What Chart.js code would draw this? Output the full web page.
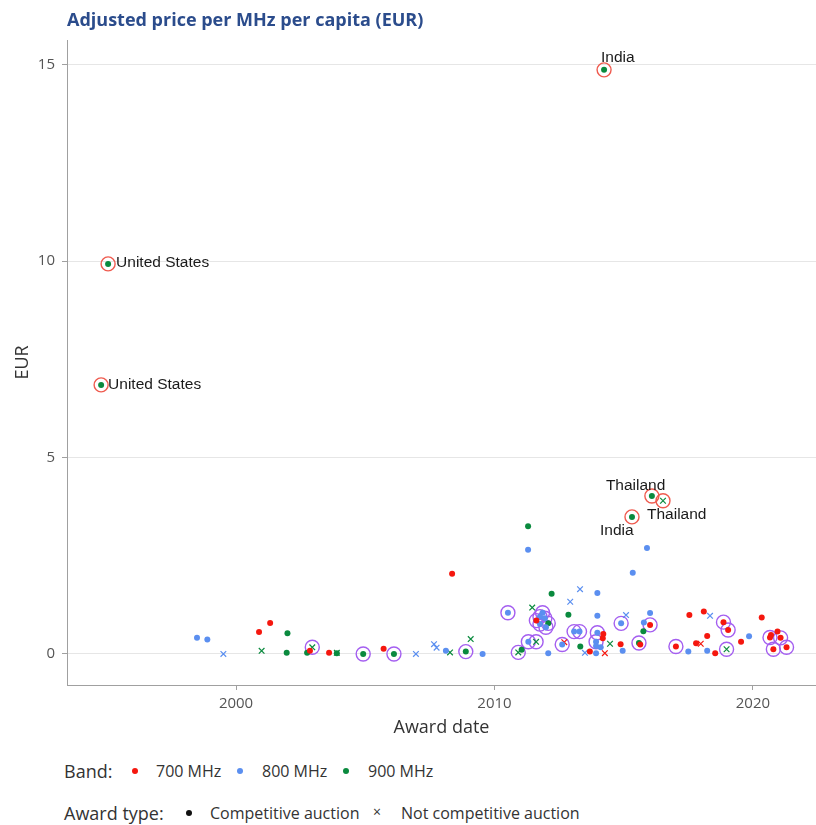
<!DOCTYPE html>
<html>
<head>
<meta charset="utf-8">
<script src="https://cdn.jsdelivr.net/npm/chart.js@4.4.1/dist/chart.umd.min.js"></script>
<style>
    body { margin: 0; background: #fff; }
    #wrap { position: relative; width: 816px; height: 825px; overflow: hidden; font-family: 'Open Sans', sans-serif; }
    #chart { position: absolute; left: 0; top: 0; }
    .title { position: absolute; left: 67px; top: 7px; font-size: 18px; font-weight: bold; color: #2b4c8c; }
    .lg { position: absolute; color: #333; font-size: 16px; white-space: nowrap; line-height: 20px; }
    .lg.head { font-size: 18px; line-height: 22px; }
    .dot { position: absolute; width: 6px; height: 6px; border-radius: 50%; }
</style>
</head>
<body>
<div id="wrap">
    <canvas id="chart" width="816" height="750"></canvas>
    <div class="title">Adjusted price per MHz per capita (EUR)</div>

    <span class="lg head" style="left:64px; top:760px;">Band:</span>
    <span class="dot" style="left:132px; top:768px; background:#f5170e"></span>
    <span class="lg" style="left:156px; top:761px;">700 MHz</span>
    <span class="dot" style="left:237px; top:768px; background:#5b8ff0"></span>
    <span class="lg" style="left:262px; top:761px;">800 MHz</span>
    <span class="dot" style="left:343px; top:768px; background:#0a8a3e"></span>
    <span class="lg" style="left:368px; top:761px;">900 MHz</span>

    <span class="lg head" style="left:64px; top:802px;">Award type:</span>
    <span class="dot" style="left:186px; top:810px; background:#111"></span>
    <span class="lg" style="left:210px; top:803px;">Competitive auction</span>
    <span class="lg" style="left:373px; top:802px; font-size:14px;">×</span>
    <span class="lg" style="left:401px; top:803px;">Not competitive auction</span>
</div>
<script>
// Points are [award year, EUR per MHz per capita]
const comp700 = [
    [2000.89, 0.56], [2001.32, 0.79], [2002.86, 0.08], [2003.60, 0.03], [2005.71, 0.13],
    [2008.36, 2.04], [2011.62, 0.85], [2014.21, 0.51], [2014.19, 0.40], [2014.88, 0.25],
    [2013.69, 0.06], [2016.02, 0.74], [2015.64, 0.24], [2017.54, 0.99], [2018.10, 1.08],
    [2017.02, 0.19], [2017.80, 0.27], [2018.23, 0.46], [2018.54, 0.02], [2018.86, 0.81],
    [2019.04, 0.61], [2019.54, 0.31], [2020.34, 0.93], [2020.66, 0.42], [2020.70, 0.48],
    [2020.95, 0.57], [2021.07, 0.41], [2020.79, 0.12], [2021.30, 0.17]
];
const notComp700 = [
    [2012.70, 0.30], [2014.27, 0.02], [2017.98, 0.26]
];
const comp800 = [
    [1998.49, 0.41], [1998.89, 0.37], [2008.12, 0.08], [2009.54, 0.00], [2010.52, 1.05],
    [2011.30, 2.65], [2011.31, 0.31], [2011.86, 1.05], [2011.76, 0.95], [2011.95, 0.91],
    [2011.76, 0.76], [2011.99, 0.68], [2012.08, 0.02], [2012.62, 0.24], [2013.08, 0.57],
    [2013.29, 0.57], [2013.98, 0.54], [2013.93, 0.31], [2013.98, 1.55], [2013.98, 0.97],
    [2013.93, 0.20], [2014.11, 0.17], [2013.93, 0.02], [2014.96, 0.08], [2014.90, 0.78],
    [2015.35, 2.07], [2015.90, 2.70], [2016.02, 1.04], [2015.78, 0.80], [2017.50, 0.06],
    [2018.23, 0.08], [2019.85, 0.45]
];
const notComp800 = [
    [1999.51, 0.00], [2006.96, 0.00], [2007.66, 0.25], [2007.76, 0.16], [2012.93, 1.33],
    [2013.31, 1.65], [2013.50, 0.03], [2015.09, 0.99], [2018.34, 0.97]
];
const comp900 = [
    [1994.78, 6.85], [1995.05, 9.93], [2001.96, 0.03], [2001.99, 0.53], [2002.75, 0.03],
    [2003.90, 0.02], [2004.92, 0.00], [2006.11, 0.00], [2008.89, 0.06], [2011.05, 0.11],
    [2011.30, 3.25], [2012.08, 0.78], [2012.21, 1.53], [2012.86, 1.00], [2013.32, 0.19],
    [2014.24, 14.87], [2015.32, 3.49], [2015.59, 0.28], [2015.76, 0.58], [2016.09, 4.02]
];
const notComp900 = [
    [2000.99, 0.08], [2002.95, 0.17], [2003.90, 0.03], [2008.28, 0.04], [2009.08, 0.38],
    [2010.92, 0.04], [2011.46, 1.18], [2011.61, 0.31], [2014.47, 0.26], [2016.52, 3.90],
    [2018.98, 0.12]
];
// Highlight rings
const purpleRings = [
    [2002.95, 0.17], [2004.92, 0.00], [2006.11, 0.00], [2008.89, 0.06], [2010.52, 1.05],
    [2010.92, 0.04], [2011.31, 0.31], [2011.61, 0.31], [2011.62, 0.85], [2011.76, 0.95],
    [2011.86, 1.05], [2011.95, 0.91], [2012.08, 0.78], [2011.76, 0.76], [2011.99, 0.68],
    [2012.62, 0.24], [2013.08, 0.57], [2013.29, 0.57], [2013.98, 0.54], [2013.93, 0.31],
    [2014.90, 0.78], [2015.59, 0.28], [2016.02, 0.74], [2017.02, 0.19], [2018.86, 0.81],
    [2019.04, 0.61], [2018.98, 0.12], [2020.66, 0.42], [2021.07, 0.41], [2020.79, 0.12],
    [2021.30, 0.17]
];
const redRings = [
    [1994.78, 6.85], [1995.05, 9.93], [2014.24, 14.87], [2015.32, 3.49], [2016.09, 4.02],
    [2016.52, 3.90]
];
const labelNames = ['India', 'United States', 'United States', 'Thailand', 'Thailand', 'India'];
const labelPoints = [
    [2014.24, 14.87], [1995.05, 9.93], [1994.78, 6.85], [2016.09, 4.02], [2016.52, 3.90], [2015.32, 3.49]
];
const xTicks = [2000, 2010, 2020];
const yTicks = [0, 5, 10, 15];

// Pixel offsets for the country labels (left edge, vertical centre)
const labelOffsets = [[-3, -12], [8, -1], [7, 0], [-46, -10], [-16, 14], [-32, 14]];

const RED = '#f5170e';
const BLUE = '#5b8ff0';
const GREEN = '#0a8a3e';

function toXY(arr) {
    return arr.map(p => ({ x: p[0], y: p[1] }));
}

function dots(label, arr, color) {
    return {
        label: label,
        data: toXY(arr),
        pointStyle: 'circle',
        pointRadius: 3,
        pointBackgroundColor: color,
        pointBorderWidth: 0,
        showLine: false
    };
}

function crosses(label, arr, color) {
    return {
        label: label,
        data: toXY(arr),
        pointStyle: 'crossRot',
        pointRadius: 4,
        pointBorderColor: color,
        pointBorderWidth: 1.2,
        showLine: false
    };
}

function rings(label, arr, color) {
    return {
        label: label,
        data: toXY(arr),
        pointStyle: 'circle',
        pointRadius: 7,
        pointBackgroundColor: 'rgba(0,0,0,0)',
        pointBorderColor: color,
        pointBorderWidth: 1.4,
        showLine: false
    };
}

// Country labels drawn next to their points
const countryLabels = {
    id: 'countryLabels',
    afterDatasetsDraw(chart) {
        const ctx = chart.ctx;
        const xs = chart.scales.x;
        const ys = chart.scales.y;
        ctx.save();
        ctx.font = '15.5px "Liberation Sans", Arial, sans-serif';
        ctx.fillStyle = '#1a1a1a';
        ctx.textBaseline = 'middle';
        ctx.textAlign = 'left';
        labelNames.forEach((name, i) => {
            const px = xs.getPixelForValue(labelPoints[i][0]);
            const py = ys.getPixelForValue(labelPoints[i][1]);
            ctx.fillText(name, px + labelOffsets[i][0], py + labelOffsets[i][1]);
        });
        ctx.restore();
    }
};

const tickFont = { family: "'Open Sans', sans-serif", size: 15 };
const titleFont = { family: "'Open Sans', sans-serif", size: 18 };

new Chart(document.getElementById('chart'), {
    type: 'scatter',
    data: {
        datasets: [
            dots('700 MHz', comp700, RED),
            dots('800 MHz', comp800, BLUE),
            dots('900 MHz', comp900, GREEN),
            crosses('700 MHz x', notComp700, RED),
            crosses('800 MHz x', notComp800, BLUE),
            crosses('900 MHz x', notComp900, GREEN),
            rings('purple', purpleRings, '#a45ef0'),
            rings('red', redRings, '#ef5b4f')
        ]
    },
    plugins: [countryLabels],
    options: {
        responsive: false,
        animation: false,
        layout: { autoPadding: false, padding: { top: 40, right: 0, left: 0, bottom: 0 } },
        plugins: {
            legend: { display: false },
            tooltip: { enabled: false }
        },
        scales: {
            x: {
                type: 'linear',
                min: 1993.46,
                max: 2022.44,
                afterBuildTicks: s => { s.ticks = xTicks.map(v => ({ value: v })); },
                afterFit: s => { s.height = 65; s.paddingLeft = 0; s.paddingRight = 0; },
                grid: { drawOnChartArea: false, drawTicks: true, tickLength: 5, tickColor: '#a0a0a0' },
                border: { color: '#a0a0a0', width: 1 },
                ticks: { font: tickFont, color: '#555', padding: 5, maxRotation: 0, callback: v => String(v) },
                title: { display: true, text: 'Award date', font: titleFont, color: '#333', padding: { top: 0, bottom: 11 } }
            },
            y: {
                type: 'linear',
                min: -0.79,
                max: 15.63,
                afterBuildTicks: s => { s.ticks = yTicks.map(v => ({ value: v })); },
                afterFit: s => { s.width = 67; s.paddingTop = 0; s.paddingBottom = 0; },
                grid: { color: '#e6e6e6', tickLength: 5, tickColor: '#a0a0a0' },
                border: { color: '#a0a0a0', width: 1 },
                ticks: { font: tickFont, color: '#555', padding: 7 },
                title: { display: true, text: 'EUR', font: titleFont, color: '#333', padding: { top: 12, bottom: 0 } }
            }
        }
    }
});
</script>
</body>
</html>
